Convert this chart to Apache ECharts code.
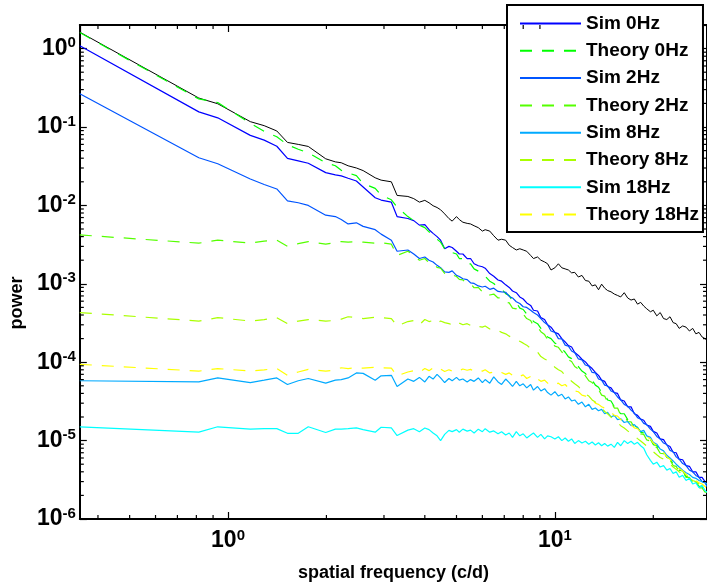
<!DOCTYPE html>
<html><head><meta charset="utf-8">
<script src="https://cdn.jsdelivr.net/npm/echarts@6/dist/echarts.min.js"></script>
<style>html,body{margin:0;padding:0;background:#fff}#c{width:707px;height:587px}</style>
</head><body><div id="c"></div>
<script>
const freq = [0.352,0.814,0.93,1.17,1.29,1.41,1.52,1.64,1.76,1.99,
2.13,2.22,2.33,2.47,2.59,2.82,2.94,3.16,3.29,3.55,
3.7,3.85,4.0,4.12,4.24,4.36,4.47,4.6,4.74,4.85,
5.0,5.1,5.23,5.39,5.52,5.66,5.83,6.0,6.12,6.32,
6.5,6.7,6.87,7.07,7.25,7.42,7.62,7.81,8.0,8.2,
8.43,8.6,8.85,9.06,9.3,9.5,9.73,10.0,10.25,10.5,
10.75,11.0,11.25,11.5,11.8,12.1,12.4,12.7,13.0,13.3,
13.6,13.9,14.2,14.5,14.85,15.2,15.55,15.9,16.3,16.7,
17.1,17.5,17.9,18.3,18.7,19.1,19.6,20.0,20.5,21.0,
21.5,22.0,22.5,23.0,23.5,24.0,24.6,25.2,25.8,26.4,
27.0,27.6,28.2,28.8,29.2];

const unlabeled = [1.62,0.234,0.198,0.117,0.104,0.089,0.0636,0.060,0.0565,0.0393,
0.0359,0.0350,0.0320,0.0300,0.0278,0.0225,0.0210,0.0200,0.0134,0.0130,
0.0122,0.0110,0.0116,0.0108,0.0099,0.0094,0.0088,0.0078,0.0068,0.0063,
0.0072,0.0066,0.0061,0.0059,0.0058,0.0055,0.0052,0.0047,0.0049,0.0047,
0.0041,0.0036,0.0037,0.0036,0.0031,0.0029,0.0027,0.0028,0.0027,0.0026,
0.0023,0.0021,0.0022,0.0020,0.0019,0.0018,0.0015,0.0016,0.0018,0.0016,
0.00155,0.0015,0.00138,0.0014,0.00122,0.00128,0.00110,0.00108,0.00094,0.00097,
0.00084,0.00099,0.00088,0.00082,0.00079,0.00074,0.00071,0.00068,0.00077,0.00066,
0.00062,0.00064,0.00055,0.00058,0.00052,0.00048,0.00044,0.00046,0.00039,0.00043,
0.00036,0.00035,0.00038,0.00032,0.00031,0.00027,0.00029,0.00028,0.00025,0.00027,
0.00023,0.00024,0.00021,0.00020,0.00019];

const sim0 = [1.09,0.156,0.131,0.0782,0.068,0.0568,0.0397,0.037,0.0345,0.0262,
0.0245,0.0238,0.0222,0.0205,0.0172,0.0125,0.0117,0.0110,0.0072,0.0068,
0.0064,0.0056,0.0057,0.0049,0.0044,0.0040,0.0036,0.0028,0.0030,0.0029,
0.0026,0.0024,0.0024,0.0021,0.0021,0.0018,0.0017,0.00165,0.00158,0.00135,
0.00125,0.00112,0.00108,0.00097,0.00090,0.00081,0.00077,0.00068,0.00064,0.00057,
0.00053,0.00046,0.00045,0.00037,0.00035,0.00030,0.00028,0.00024,0.00023,0.00020,
0.000182,0.000163,0.000156,0.000133,0.000122,0.000109,0.000101,0.000090,0.000083,0.000074,
0.000068,0.000059,0.000057,0.000049,0.000047,0.000041,0.000040,0.000033,0.000032,0.000027,
0.000027,0.000022,0.000021,0.0000188,0.0000182,0.0000158,0.0000152,0.0000131,0.0000125,0.0000105,
0.0000103,0.0000088,0.0000084,0.0000071,0.0000070,0.0000058,0.0000057,0.0000048,0.0000047,0.0000040,
0.0000040,0.0000034,0.0000034,0.0000030,0.0000030];

const theory0 = [1.60,0.228,0.205,0.112,0.088,0.075,0.0594,0.052,0.0469,0.035,
0.032,0.028,0.026,0.024,0.019,0.0165,0.0135,0.0118,0.0095,0.0072,
0.0064,0.0056,0.0052,0.0046,0.0042,0.0037,0.0034,0.0028,0.0028,0.0025,
0.0024,0.0021,0.0021,0.0018,0.0018,0.00155,0.00145,0.00128,0.00125,0.00108,
0.00101,0.00090,0.00086,0.00075,0.00071,0.00060,0.00058,0.00049,0.00047,0.00041,
0.00038,0.00033,0.00031,0.00027,0.00025,0.00021,0.00020,0.000175,0.000168,0.000148,
0.000134,0.000117,0.000111,0.000095,0.000088,0.000077,0.000072,0.000062,0.000059,0.000051,
0.000048,0.000041,0.000039,0.000033,0.000032,0.000027,0.000027,0.000022,0.000022,0.0000185,
0.0000182,0.0000155,0.0000148,0.0000128,0.0000125,0.0000108,0.0000104,0.0000089,0.0000086,0.0000073,
0.0000071,0.0000061,0.0000059,0.0000050,0.0000049,0.0000042,0.0000041,0.0000035,0.0000035,0.0000030,
0.0000030,0.0000026,0.0000026,0.0000023,0.0000023];

const sim2 = [0.265,0.0405,0.034,0.0217,0.0185,0.0162,0.0114,0.0108,0.0100,0.0075,
0.0072,0.0066,0.0058,0.0060,0.0054,0.0049,0.0043,0.0036,0.0026,0.0027,
0.0024,0.0021,0.0022,0.0020,0.0019,0.00172,0.0016,0.00142,0.0014,0.00146,
0.00128,0.00124,0.00116,0.00113,0.00103,0.00101,0.00094,0.00091,0.00093,0.00085,
0.00088,0.00080,0.00079,0.00078,0.00069,0.00066,0.00059,0.00056,0.00051,0.00050,
0.00046,0.00043,0.00040,0.00036,0.00032,0.00030,0.00025,0.00024,0.00020,0.000198,
0.000165,0.000160,0.000139,0.000132,0.000110,0.000107,0.000092,0.000089,0.000074,0.000073,
0.000061,0.000059,0.000051,0.000050,0.000043,0.000041,0.000036,0.000033,0.000029,0.0000275,
0.0000245,0.0000225,0.0000196,0.0000188,0.0000166,0.0000160,0.0000140,0.0000130,0.0000113,0.0000105,
0.0000093,0.0000089,0.0000075,0.0000072,0.0000062,0.0000058,0.0000051,0.0000048,0.0000042,0.0000040,
0.0000036,0.0000034,0.0000030,0.0000029,0.0000026];

const theory2 = [4.2e-3,3.3e-3,3.6e-3,3.3e-3,3.5e-3,3.6e-3,3.0e-3,3.25e-3,3.45e-3,3.2e-3,
3.35e-3,3.45e-3,3.4e-3,3.45e-3,3.4e-3,3.3e-3,3.35e-3,3.2e-3,2.3e-3,2.6e-3,
2.3e-3,2.0e-3,2.1e-3,1.85e-3,1.82e-3,1.62e-3,1.58e-3,1.36e-3,1.40e-3,1.30e-3,
1.24e-3,1.14e-3,1.12e-3,1.00e-3,1.00e-3,0.89e-3,0.90e-3,0.79e-3,0.82e-3,0.72e-3,
0.74e-3,0.66e-3,0.66e-3,0.58e-3,0.57e-3,0.49e-3,0.48e-3,0.42e-3,0.41e-3,0.36e-3,
0.34e-3,0.29e-3,0.28e-3,0.245e-3,0.225e-3,0.195e-3,0.185e-3,0.16e-3,0.155e-3,0.135e-3,
0.123e-3,0.108e-3,0.102e-3,0.088e-3,0.082e-3,0.071e-3,0.067e-3,0.058e-3,0.055e-3,0.047e-3,
0.045e-3,0.038e-3,0.037e-3,0.031e-3,0.031e-3,0.026e-3,0.026e-3,0.021e-3,0.021e-3,0.0175e-3,
0.0173e-3,0.0148e-3,0.0142e-3,0.0122e-3,0.0120e-3,0.0102e-3,0.0099e-3,0.0084e-3,0.0082e-3,0.0069e-3,
0.0068e-3,0.0058e-3,0.0057e-3,0.0048e-3,0.0047e-3,0.0040e-3,0.0040e-3,0.0034e-3,0.0034e-3,0.0029e-3,
0.0029e-3,0.0025e-3,0.0025e-3,0.0022e-3,0.0022e-3];

const sim8 = [5.8e-5,5.6e-5,6.3e-5,5.5e-5,5.9e-5,6.3e-5,5.2e-5,5.8e-5,6.2e-5,5.4e-5,
5.9e-5,6.0e-5,6.3e-5,7.3e-5,7.2e-5,5.9e-5,6.7e-5,6.8e-5,4.9e-5,6.1e-5,
5.7e-5,6.4e-5,5.6e-5,6.6e-5,6.1e-5,7.0e-5,6.3e-5,5.5e-5,6.2e-5,5.8e-5,
6.4e-5,5.9e-5,6.1e-5,5.6e-5,6.0e-5,5.7e-5,6.3e-5,5.5e-5,6.0e-5,5.4e-5,
6.5e-5,5.6e-5,5.2e-5,6.1e-5,5.5e-5,4.9e-5,5.7e-5,5.0e-5,5.3e-5,4.7e-5,
5.2e-5,4.4e-5,4.9e-5,4.3e-5,4.6e-5,4.1e-5,3.8e-5,4.2e-5,3.7e-5,3.9e-5,
3.4e-5,3.6e-5,3.2e-5,3.3e-5,2.9e-5,3.1e-5,2.7e-5,2.9e-5,2.5e-5,2.6e-5,
2.4e-5,2.5e-5,2.2e-5,2.3e-5,2.0e-5,2.1e-5,1.85e-5,1.9e-5,1.7e-5,1.75e-5,
1.55e-5,1.6e-5,1.45e-5,1.3e-5,1.35e-5,1.15e-5,1.1e-5,0.95e-5,0.9e-5,0.78e-5,
0.74e-5,0.65e-5,0.6e-5,0.55e-5,0.5e-5,0.46e-5,0.42e-5,0.39e-5,0.37e-5,0.34e-5,
0.33e-5,0.31e-5,0.30e-5,0.29e-5,0.28e-5];

const theory8 = [4.3e-4,3.35e-4,3.7e-4,3.35e-4,3.5e-4,3.7e-4,3.1e-4,3.35e-4,3.5e-4,3.35e-4,
3.4e-4,3.55e-4,3.8e-4,3.7e-4,3.6e-4,3.75e-4,3.7e-4,3.6e-4,2.9e-4,3.3e-4,
3.4e-4,3.0e-4,3.5e-4,3.3e-4,3.4e-4,3.1e-4,3.35e-4,3.2e-4,3.1e-4,3.0e-4,
3.3e-4,3.15e-4,3.0e-4,3.1e-4,2.95e-4,3.05e-4,2.85e-4,2.8e-4,2.9e-4,2.65e-4,
2.7e-4,2.55e-4,2.4e-4,2.3e-4,2.15e-4,2.05e-4,1.9e-4,1.85e-4,1.75e-4,1.65e-4,
1.5e-4,1.45e-4,1.35e-4,1.18e-4,1.1e-4,1.05e-4,0.98e-4,0.86e-4,0.80e-4,0.76e-4,
0.68e-4,0.64e-4,0.57e-4,0.53e-4,0.49e-4,0.43e-4,0.39e-4,0.37e-4,0.33e-4,0.31e-4,
0.28e-4,0.26e-4,0.235e-4,0.22e-4,0.20e-4,0.185e-4,0.17e-4,0.155e-4,0.145e-4,0.133e-4,
0.123e-4,0.115e-4,0.106e-4,0.099e-4,0.092e-4,0.085e-4,0.078e-4,0.072e-4,0.066e-4,0.061e-4,
0.058e-4,0.053e-4,0.050e-4,0.046e-4,0.043e-4,0.040e-4,0.037e-4,0.035e-4,0.033e-4,0.031e-4,
0.030e-4,0.028e-4,0.027e-4,0.026e-4,0.025e-4];

const sim18 = [1.5e-5,1.28e-5,1.5e-5,1.4e-5,1.42e-5,1.42e-5,1.24e-5,1.24e-5,1.5e-5,1.27e-5,
1.4e-5,1.4e-5,1.42e-5,1.45e-5,1.38e-5,1.28e-5,1.48e-5,1.45e-5,1.16e-5,1.36e-5,
1.42e-5,1.3e-5,1.45e-5,1.38e-5,1.25e-5,1.15e-5,1.0e-5,1.2e-5,1.35e-5,1.3e-5,
1.38e-5,1.28e-5,1.4e-5,1.32e-5,1.36e-5,1.25e-5,1.4e-5,1.3e-5,1.42e-5,1.28e-5,
1.33e-5,1.22e-5,1.3e-5,1.18e-5,1.25e-5,1.1e-5,1.3e-5,1.15e-5,1.22e-5,1.08e-5,
1.18e-5,1.25e-5,1.1e-5,1.2e-5,1.05e-5,1.15e-5,1.12e-5,1.05e-5,1.12e-5,1.0e-5,
1.08e-5,0.98e-5,1.05e-5,0.92e-5,1.0e-5,0.93e-5,0.98e-5,0.9e-5,0.96e-5,0.88e-5,
0.94e-5,0.86e-5,0.92e-5,0.85e-5,0.9e-5,0.82e-5,0.95e-5,0.86e-5,1.0e-5,0.92e-5,
0.98e-5,0.9e-5,0.95e-5,0.86e-5,0.8e-5,0.66e-5,0.56e-5,0.5e-5,0.53e-5,0.46e-5,
0.48e-5,0.42e-5,0.44e-5,0.38e-5,0.4e-5,0.34e-5,0.36e-5,0.31e-5,0.33e-5,0.28e-5,
0.29e-5,0.25e-5,0.27e-5,0.23e-5,0.22e-5];

const theory18 = [9.4e-5,7.7e-5,8.3e-5,7.7e-5,8.0e-5,8.3e-5,6.8e-5,7.5e-5,8.1e-5,7.7e-5,
7.9e-5,8.5e-5,8.3e-5,8.5e-5,8.4e-5,8.6e-5,8.5e-5,8.4e-5,6.7e-5,7.5e-5,
7.8e-5,7.4e-5,8.3e-5,7.8e-5,8.5e-5,7.9e-5,8.2e-5,7.6e-5,8.0e-5,7.7e-5,
8.1e-5,7.8e-5,8.2e-5,7.9e-5,8.1e-5,7.6e-5,7.9e-5,7.7e-5,8.0e-5,7.3e-5,
7.5e-5,7.1e-5,7.4e-5,7.0e-5,7.3e-5,6.8e-5,7.1e-5,6.6e-5,6.9e-5,6.2e-5,
6.6e-5,5.9e-5,6.1e-5,5.7e-5,5.9e-5,5.4e-5,5.6e-5,5.2e-5,5.4e-5,5.0e-5,
5.2e-5,4.7e-5,4.6e-5,4.3e-5,4.2e-5,3.8e-5,3.7e-5,3.4e-5,3.3e-5,3.0e-5,
2.9e-5,2.7e-5,2.6e-5,2.4e-5,2.3e-5,2.1e-5,2.05e-5,1.85e-5,1.8e-5,1.65e-5,
1.6e-5,1.45e-5,1.42e-5,1.3e-5,1.25e-5,1.12e-5,1.05e-5,0.93e-5,0.86e-5,0.76e-5,
0.71e-5,0.62e-5,0.58e-5,0.52e-5,0.48e-5,0.44e-5,0.41e-5,0.37e-5,0.35e-5,0.32e-5,
0.31e-5,0.29e-5,0.28e-5,0.26e-5,0.25e-5];

const seriesNames = ['Sim 0Hz','Theory 0Hz','Sim 2Hz','Theory 2Hz','Sim 8Hz','Theory 8Hz','Sim 18Hz','Theory 18Hz'];
const seriesValues = [sim0, theory0, sim2, theory2, sim8, theory8, sim18, theory18];
const seriesColors = ['#0000ff','#00ff00','#0055ff','#55ff00','#00aaff','#aaff00','#00ffff','#ffff00'];

// minor tick positions (major decade ticks come from the log axes themselves)
const xMinor = [0.4,0.5,0.6,0.7,0.8,0.9,2,3,4,5,6,7,8,9,20];
const mantissas = [2,3,4,5,6,7,8,9];
const yDecades = [1e-6,1e-5,1e-4,1e-3,1e-2,1e-1];
const yMinor = [];
yDecades.forEach(d => mantissas.forEach(m => yMinor.push(m * d)));

const X_MIN = 0.352, X_MAX = 29.2, Y_MIN = 1e-6, Y_MAX = 2;
const FONT = '"Liberation Sans", Arial, Helvetica, sans-serif';
const rich = {
  b: {fontFamily: FONT, fontSize: 23, fontWeight: 'bold', color: '#000', lineHeight: 26, verticalAlign: 'middle'},
  s: {fontFamily: FONT, fontSize: 15, fontWeight: 'bold', color: '#000', lineHeight: 6, verticalAlign: 'top'}
};
function powLabel(v) {
  const e = Math.round(Math.log10(v));
  return '{b|10}{s|' + e + '}';
}

function logAxis(kind, pos) {
  const a = {
    type: 'log', logBase: 10, position: pos, gridIndex: 0,
    axisLine: {show: true, onZero: false, lineStyle: {color: '#000', width: 2}},
    axisTick: {show: true, inside: true, length: 7, lineStyle: {color: '#000', width: 1.2}},
    axisLabel: {show: false},
    splitLine: {show: false},
    minorTick: {show: false}
  };
  if (kind === 'x') { a.min = X_MIN; a.max = X_MAX; }
  else { a.min = Y_MIN; a.max = Y_MAX; }
  return a;
}

const xMain = logAxis('x', 'bottom');
xMain.axisLabel = {show: true, formatter: powLabel, rich: rich, margin: 9, showMinLabel: false, showMaxLabel: false};
xMain.name = 'spatial frequency (c/d)';
xMain.nameLocation = 'middle';
xMain.nameGap = 45;
xMain.nameTextStyle = {fontFamily: FONT, fontSize: 18, fontWeight: 'bold', color: '#000'};

const yMain = logAxis('y', 'left');
yMain.axisLabel = {show: true, formatter: powLabel, rich: rich, margin: 4, showMinLabel: true, showMaxLabel: false};
yMain.name = 'power';
yMain.nameLocation = 'middle';
yMain.nameGap = 39;
yMain.nameTextStyle = {fontFamily: FONT, fontSize: 18, fontWeight: 'bold', color: '#000', padding: [0, 62, 0, 0]};

function tickLine(x1, y1, x2, y2) {
  return {type: 'line', shape: {x1: x1, y1: y1, x2: x2, y2: y2}, style: {stroke: '#000', lineWidth: 1.2}};
}
const minorX = {
  type: 'custom', name: 'minorTicksX', silent: true, z: 6, clip: false, xAxisIndex: 0, yAxisIndex: 0,
  data: xMinor.map(v => [v, Y_MIN]),
  renderItem: function (params, api) {
    const pb = api.coord([api.value(0), Y_MIN]);
    const pt = api.coord([api.value(0), Y_MAX]);
    return {type: 'group', children: [
      tickLine(pb[0], pb[1], pb[0], pb[1] - 4),
      tickLine(pt[0], pt[1], pt[0], pt[1] + 4)
    ]};
  }
};
const minorY = {
  type: 'custom', name: 'minorTicksY', silent: true, z: 6, clip: false, xAxisIndex: 0, yAxisIndex: 0,
  data: yMinor.map(v => [X_MIN, v]),
  renderItem: function (params, api) {
    const pl = api.coord([X_MIN, api.value(1)]);
    const pr = api.coord([X_MAX, api.value(1)]);
    return {type: 'group', children: [
      tickLine(pl[0], pl[1], pl[0] + 4, pl[1]),
      tickLine(pr[0], pr[1], pr[0] - 4, pr[1])
    ]};
  }
};

const option = {
  animation: false,
  backgroundColor: '#fff',
  grid: {left: 79, top: 25, right: -2, bottom: 60, containLabel: false},
  xAxis: [xMain, logAxis('x', 'top')],
  yAxis: [yMain, logAxis('y', 'right')],
  legend: {
    data: seriesNames, orient: 'vertical', left: 507, top: 5,
    padding: [9, 4, 8, 12], itemWidth: 61, itemHeight: 14, itemGap: 8.3,
    backgroundColor: '#fff', borderColor: '#000', borderWidth: 2, borderRadius: 0,
    textStyle: {fontFamily: FONT, fontSize: 19, fontWeight: 'bold', color: '#000', lineHeight: 18},
    itemStyle: {opacity: 0},
    lineStyle: {width: 2}
  },
  series: [{
    name: 'unlabeled', type: 'line', symbol: 'none', showSymbol: false, silent: true,
    xAxisIndex: 0, yAxisIndex: 0, z: 2,
    lineStyle: {color: '#000', width: 1}, itemStyle: {color: '#000'},
    data: freq.map((f, i) => [f, unlabeled[i]])
  }].concat(seriesNames.map((n, k) => ({
    name: n, type: 'line', symbol: 'none', showSymbol: false, silent: true,
    xAxisIndex: 0, yAxisIndex: 0, z: 3,
    lineStyle: {color: seriesColors[k], width: 1.2, type: (k % 2 === 1) ? [12, 10] : 'solid'},
    itemStyle: {color: seriesColors[k]},
    data: freq.map((f, i) => [f, seriesValues[k][i]])
  }))).concat([minorX, minorY])
};
const chart = echarts.init(document.getElementById('c'), null, {renderer: 'canvas'});
chart.setOption(option);
</script></body></html>
